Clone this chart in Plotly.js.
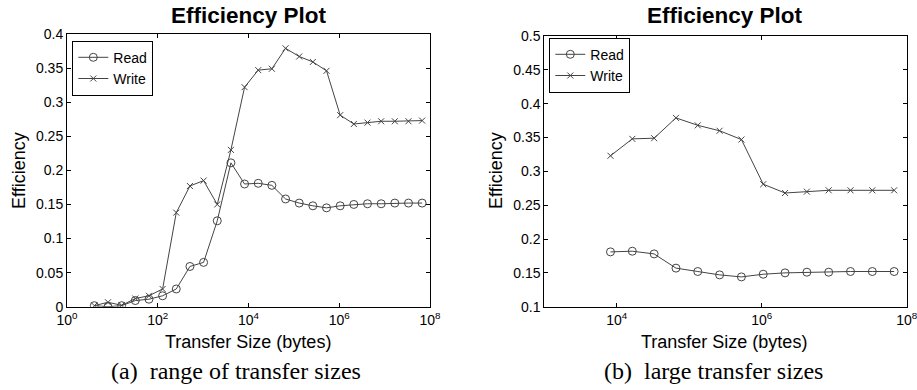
<!DOCTYPE html>
<html>
<head>
<meta charset="utf-8">
<script src="https://cdn.plot.ly/plotly-3.0.1.min.js"></script>
<style>
  html, body { margin: 0; padding: 0; background: #fff; }
  #chart { width: 917px; height: 390px; }
</style>
</head>
<body>
<div id="chart"></div>
<script>
// ---- Data ----
// (a) range of transfer sizes
var sizesA = [4, 8, 16, 32, 64, 128, 256, 512, 1024, 2048, 4096, 8192, 16384, 32768,
              65536, 131072, 262144, 524288, 1048576, 2097152, 4194304, 8388608,
              16777216, 33554432, 67108864];
var readA  = [0.0015, 0.000, 0.0015, 0.009, 0.011, 0.016, 0.026, 0.059, 0.065, 0.126,
              0.211, 0.180, 0.181, 0.178, 0.158, 0.152, 0.148, 0.145, 0.148, 0.150,
              0.151, 0.151, 0.152, 0.152, 0.152];
var writeA = [0.0015, 0.0065, 0.002, 0.012, 0.016, 0.026, 0.138, 0.177, 0.185, 0.150,
              0.230, 0.322, 0.347, 0.349, 0.379, 0.367, 0.359, 0.346, 0.281, 0.268,
              0.270, 0.272, 0.272, 0.272, 0.273];

// (b) large transfer sizes
var sizesB = [8192, 16384, 32768, 65536, 131072, 262144, 524288, 1048576, 2097152,
              4194304, 8388608, 16777216, 33554432, 67108864];
var readB  = [0.181, 0.182, 0.178, 0.157, 0.152, 0.147, 0.144, 0.148, 0.150, 0.151,
              0.151, 0.152, 0.152, 0.152];
var writeB = [0.323, 0.348, 0.349, 0.379, 0.368, 0.360, 0.347, 0.281, 0.268, 0.270,
              0.272, 0.272, 0.272, 0.272];

// Tick labels
var xTickValsA = [1, 100, 10000, 1000000, 100000000];
var xTickTextA = ['10<sup>0</sup>', '10<sup>2</sup>', '10<sup>4</sup>', '10<sup>6</sup>', '10<sup>8</sup>'];
var xTickValsB = [10000, 1000000, 100000000];
var xTickTextB = ['10<sup>4</sup>', '10<sup>6</sup>', '10<sup>8</sup>'];

var titleText = 'Efficiency Plot';
var xTitleText = 'Transfer Size (bytes)';
var yTitleText = 'Efficiency';
var captionA = '(a)&nbsp; range of transfer sizes';
var captionB = '(b)&nbsp; large transfer sizes';
var seriesNames = ['Read', 'Write'];

// ---- Styling ----
var W = 917, H = 390;
var lineCol = '#444';
var sans = 'Liberation Sans, Arial, Helvetica, sans-serif';
var serif = 'Liberation Serif, Times New Roman, serif';

function px(x) { return x / W; }
function py(y) { return (H - y) / H; }

function readTrace(x, y, xa, ya, lg) {
  return { x: x, y: y, xaxis: xa, yaxis: ya, legend: lg, name: seriesNames[0],
    type: 'scatter', mode: 'lines+markers',
    line: { color: lineCol, width: 1 },
    marker: { symbol: 'circle-open', size: 8, color: lineCol, line: { width: 1, color: lineCol } } };
}
function writeTrace(x, y, xa, ya, lg) {
  return { x: x, y: y, xaxis: xa, yaxis: ya, legend: lg, name: seriesNames[1],
    type: 'scatter', mode: 'lines+markers',
    line: { color: lineCol, width: 1 },
    marker: { symbol: 'x-thin-open', size: 6, color: lineCol, line: { width: 1, color: lineCol } } };
}

var data = [
  readTrace(sizesA, readA, 'x', 'y', 'legend'),
  writeTrace(sizesA, writeA, 'x', 'y', 'legend'),
  readTrace(sizesB, readB, 'x2', 'y2', 'legend2'),
  writeTrace(sizesB, writeB, 'x2', 'y2', 'legend2')
];

var axisCommon = {
  showline: true, linecolor: '#000', linewidth: 1, mirror: 'ticks',
  ticks: 'inside', ticklen: 4, tickwidth: 1, tickcolor: '#000',
  showgrid: false, zeroline: false, automargin: false,
  ticklabeloverflow: 'allow',
  tickfont: { family: sans, size: 14, color: '#000' }
};

function merge(a, b) { var o = {}; for (var k in a) o[k] = a[k]; for (var k2 in b) o[k2] = b[k2]; return o; }

var legendCommon = {
  xanchor: 'left', yanchor: 'top', bgcolor: '#fff', bordercolor: '#000', borderwidth: 1,
  font: { family: sans, size: 14, color: '#000' }, itemwidth: 30, tracegroupgap: 0
};

var annFont = { family: sans, size: 18, color: '#000' };
var layout = {
  width: W, height: H, autosize: false,
  margin: { l: 0, r: 0, t: 0, b: 0, pad: 0 },
  paper_bgcolor: '#fff', plot_bgcolor: '#fff',
  showlegend: true,
  xaxis: merge(axisCommon, { type: 'log', domain: [px(67), px(430)], range: [0, 8],
    tickmode: 'array', tickvals: xTickValsA, ticktext: xTickTextA, anchor: 'y' }),
  yaxis: merge(axisCommon, { domain: [py(306.7), py(34)], range: [0, 0.4], dtick: 0.05, tick0: 0, anchor: 'x' }),
  xaxis2: merge(axisCommon, { type: 'log', domain: [px(544.3), px(906.7)], range: [3, 8],
    tickmode: 'array', tickvals: xTickValsB, ticktext: xTickTextB, anchor: 'y2' }),
  yaxis2: merge(axisCommon, { domain: [py(306.7), py(36)], range: [0.1, 0.5], dtick: 0.05, tick0: 0.1, anchor: 'x2' }),
  legend: merge(legendCommon, { x: px(72.3), y: py(40.7) }),
  legend2: merge(legendCommon, { x: px(549.3), y: py(37.7) }),
  annotations: [
    { text: '<b>' + titleText + '</b>', x: px(248.5), y: py(15.5), xref: 'paper', yref: 'paper',
      xanchor: 'center', yanchor: 'middle', showarrow: false, font: { family: sans, size: 22.5, color: '#000' } },
    { text: '<b>' + titleText + '</b>', x: px(725), y: py(15.5), xref: 'paper', yref: 'paper',
      xanchor: 'center', yanchor: 'middle', showarrow: false, font: { family: sans, size: 22.5, color: '#000' } },
    { text: yTitleText, x: px(19), y: py(171), xref: 'paper', yref: 'paper', textangle: -90,
      xanchor: 'center', yanchor: 'middle', showarrow: false, font: annFont },
    { text: yTitleText, x: px(496), y: py(171), xref: 'paper', yref: 'paper', textangle: -90,
      xanchor: 'center', yanchor: 'middle', showarrow: false, font: annFont },
    { text: xTitleText, x: px(247.5), y: py(342), xref: 'paper', yref: 'paper',
      xanchor: 'center', yanchor: 'middle', showarrow: false, font: annFont },
    { text: xTitleText, x: px(724), y: py(342), xref: 'paper', yref: 'paper',
      xanchor: 'center', yanchor: 'middle', showarrow: false, font: annFont },
    { text: captionA, x: px(236), y: py(371), xref: 'paper', yref: 'paper',
      xanchor: 'center', yanchor: 'middle', showarrow: false, font: { family: serif, size: 24, color: '#000' } },
    { text: captionB, x: px(713), y: py(371), xref: 'paper', yref: 'paper',
      xanchor: 'center', yanchor: 'middle', showarrow: false, font: { family: serif, size: 24, color: '#000' } }
  ]
};

Plotly.newPlot('chart', data, layout, { displayModeBar: false, staticPlot: true });
</script>
</body>
</html>
